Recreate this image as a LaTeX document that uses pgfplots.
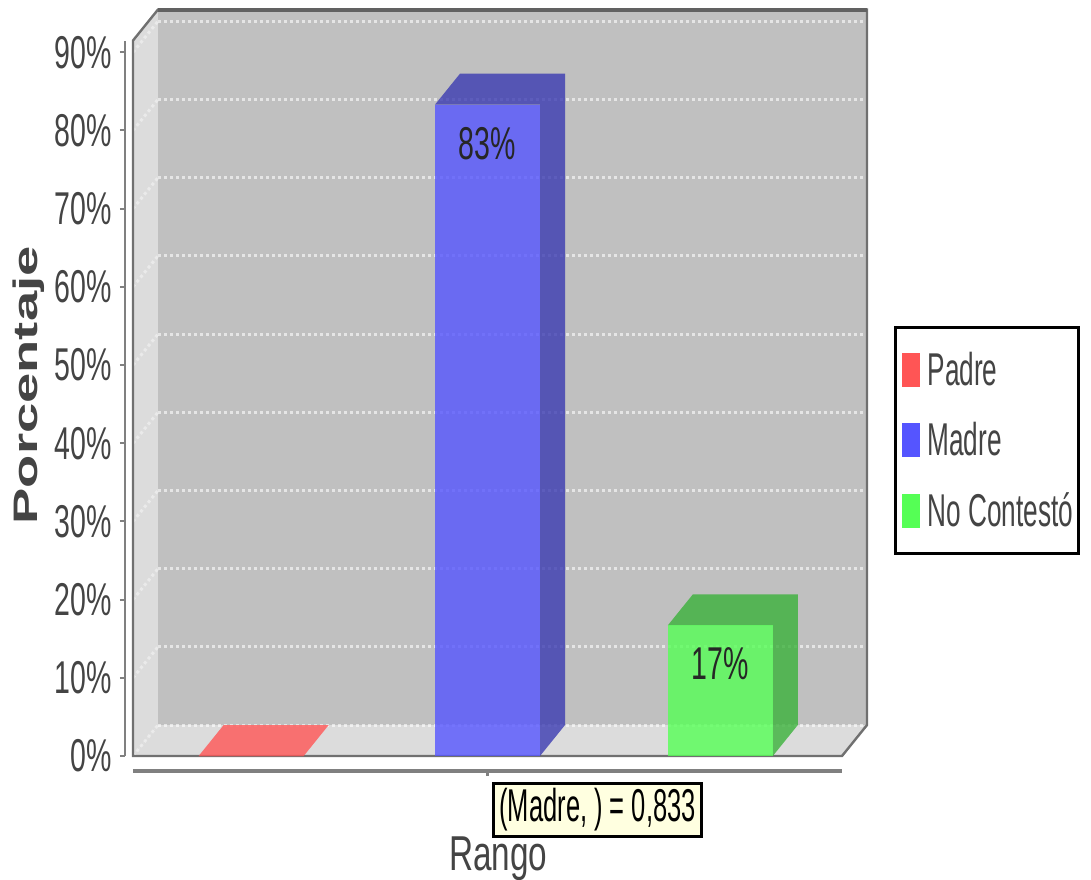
\documentclass[border=0pt]{standalone}
\usepackage{fontspec}
\usepackage{pgfplots}
\pgfplotsset{compat=1.18}
\setmainfont{Liberation Sans}
\newfontfamily\condA[FakeStretch=0.62]{Liberation Sans}
\newfontfamily\condL[FakeStretch=0.57]{Liberation Sans}
\newfontfamily\condT[FakeStretch=0.555]{Liberation Sans}
\newfontfamily\condR[FakeStretch=0.68]{Liberation Sans}
\newfontfamily\wideB[FakeStretch=1.6]{Liberation Sans}
\definecolor{wallback}{HTML}{C0C0C0}
\definecolor{wallside}{HTML}{DCDCDC}
\definecolor{edge}{HTML}{707070}
\definecolor{axisgray}{HTML}{808080}
\definecolor{txt}{HTML}{444444}
\definecolor{cPadre}{HTML}{FF5555}
\definecolor{cMadre}{HTML}{5555FF}
\definecolor{cNC}{HTML}{55FF55}
\definecolor{dMadre}{HTML}{3B3BB2}
\definecolor{dNC}{HTML}{3BB23B}
\definecolor{tipbg}{HTML}{FFFFE0}
\begin{document}
\begin{tikzpicture}
\useasboundingbox (-66.5pt,-61.5pt) rectangle (479pt,378pt);
\begin{axis}[
  at={(0,0)}, anchor=south west,
  scale only axis, width=354.5pt, height=357.75pt,
  xmin=0, xmax=3, ymin=0, ymax=91.5,
  clip=false,
  axis x line=bottom, axis y line=left,
  axis line style={-, axisgray},
  x axis line style={line width=2pt},
  y axis line style={line width=1pt},
  axis x line shift=7.5pt,
  axis y line shift=4pt,
  tick align=outside, major tick length=2.5pt,
  tick style={axisgray, line width=1pt},
  xtick={1.5}, xticklabels={},
  ytick={0,10,...,90},
  yticklabels={0\%,10\%,20\%,30\%,40\%,50\%,60\%,70\%,80\%,90\%},
  yticklabel style={font=\condA\fontsize{23}{23}\selectfont, text=txt, inner sep=0pt, xshift=-4pt},
  legend style={at={(axis description cs:1.0727,0.6003)}, anchor=north west,
    draw=black, line width=1.5pt, inner xsep=3.25pt, inner ysep=10.5pt, row sep=14pt,
    font=\condL\fontsize{23}{23}\selectfont, text=txt,
    nodes={inner ysep=1.5pt, inner xsep=4pt}},
  legend cell align=left,
  legend image code/.code={\fill[#1, fill opacity=1, draw=none] (0pt,-8.5pt) rectangle (9pt,8.5pt);},
]
% walls
\fill[wallside] (axis cs:0,0) -- (axis cs:0.1058,3.96) -- (axis cs:0.1058,95.46) -- (axis cs:0,91.5) -- cycle;
\fill[wallback] (axis cs:0.1058,3.96) rectangle (axis cs:3.1058,95.46);
\fill[wallside] (axis cs:0,0) -- (axis cs:3,0) -- (axis cs:3.1058,3.96) -- (axis cs:0.1058,3.96) -- cycle;
% grid lines
\pgfplotsinvokeforeach{0,10,...,90}{
  \draw[white, opacity=0.6, line width=1.5pt, dash pattern=on 1.5pt off 1.5pt] (axis cs:0.1058,#1+3.96) -- (axis cs:3.1058,#1+3.96);
  \draw[white, opacity=0.4, line width=1.5pt, dash pattern=on 1.5pt off 1.5pt] (axis cs:0,#1) -- (axis cs:0.1058,#1+3.96);
}
% outline
\draw[edge, line width=1.2pt] (axis cs:0,0) -- (axis cs:3,0) -- (axis cs:3.1058,3.96) -- (axis cs:3.1058,95.46) -- (axis cs:0.1058,95.46) -- (axis cs:0,91.5) -- cycle;
\draw[black!62, line width=2pt] (axis cs:0.1058,95.46) -- (axis cs:3.1058,95.46);
% depth faces of the bars
\addplot[fill=cPadre, fill opacity=0.8, draw=none, forget plot] coordinates {(0.2778,0) (0.3836,3.96) (0.8280,3.96) (0.7222,0)};
\addplot[fill=dMadre, fill opacity=0.8, draw=none, forget plot] coordinates {(1.2778,83.3) (1.3836,87.26) (1.8280,87.26) (1.8280,3.96) (1.7222,0) (1.7222,83.3)};
\addplot[fill=dNC, fill opacity=0.8, draw=none, forget plot] coordinates {(2.2628,16.7) (2.3686,20.66) (2.8130,20.66) (2.8130,3.96) (2.7072,0) (2.7072,16.7)};
% front faces
\addplot[ybar, bar width=0.4444, bar shift=0pt, fill=cPadre, fill opacity=0.8, draw=none] coordinates {(0.5,0)};
\addlegendentry{Padre}
\addplot[ybar, bar width=0.4444, bar shift=0pt, fill=cMadre, fill opacity=0.8, draw=none,
  nodes near coords={\pgfmathprintnumber[fixed,precision=0,assume math mode=true]{\pgfplotspointmeta}\%},
  every node near coord/.style={anchor=north, inner sep=0pt, yshift=-11pt, text=black!85, text opacity=1, font=\condA\fontsize{23}{23}\selectfont}] coordinates {(1.5,83.3)};
\addlegendentry{Madre}
\addplot[ybar, bar width=0.4444, bar shift=0pt, fill=cNC, fill opacity=0.8, draw=none,
  nodes near coords={\pgfmathprintnumber[fixed,precision=0,assume math mode=true]{\pgfplotspointmeta}\%},
  every node near coord/.style={anchor=north, inner sep=0pt, yshift=-11pt, text=black!85, text opacity=1, font=\condA\fontsize{23}{23}\selectfont}] coordinates {(2.485,16.7)};
\addlegendentry{\makebox[68pt][l]{No Contestó}}
% labels
\node[rotate=90, text=txt, font=\wideB\bfseries\fontsize{17}{17}\selectfont] at ([xshift=-52pt]axis cs:0,47.4) {Porcentaje};
\node[anchor=base, text=txt, font=\condR\fontsize{24.5}{24.5}\selectfont] at ([yshift=-57pt]axis cs:1.545,0) {Rango};
\node[fill=tipbg, draw=black, line width=1.5pt, minimum width=104pt, minimum height=26.5pt, inner sep=0pt, font=\condT\fontsize{23}{23}\selectfont] at ([yshift=-27pt]axis cs:1.966,0) {(Madre, ) = 0,833};
\end{axis}
\end{tikzpicture}
\end{document}
